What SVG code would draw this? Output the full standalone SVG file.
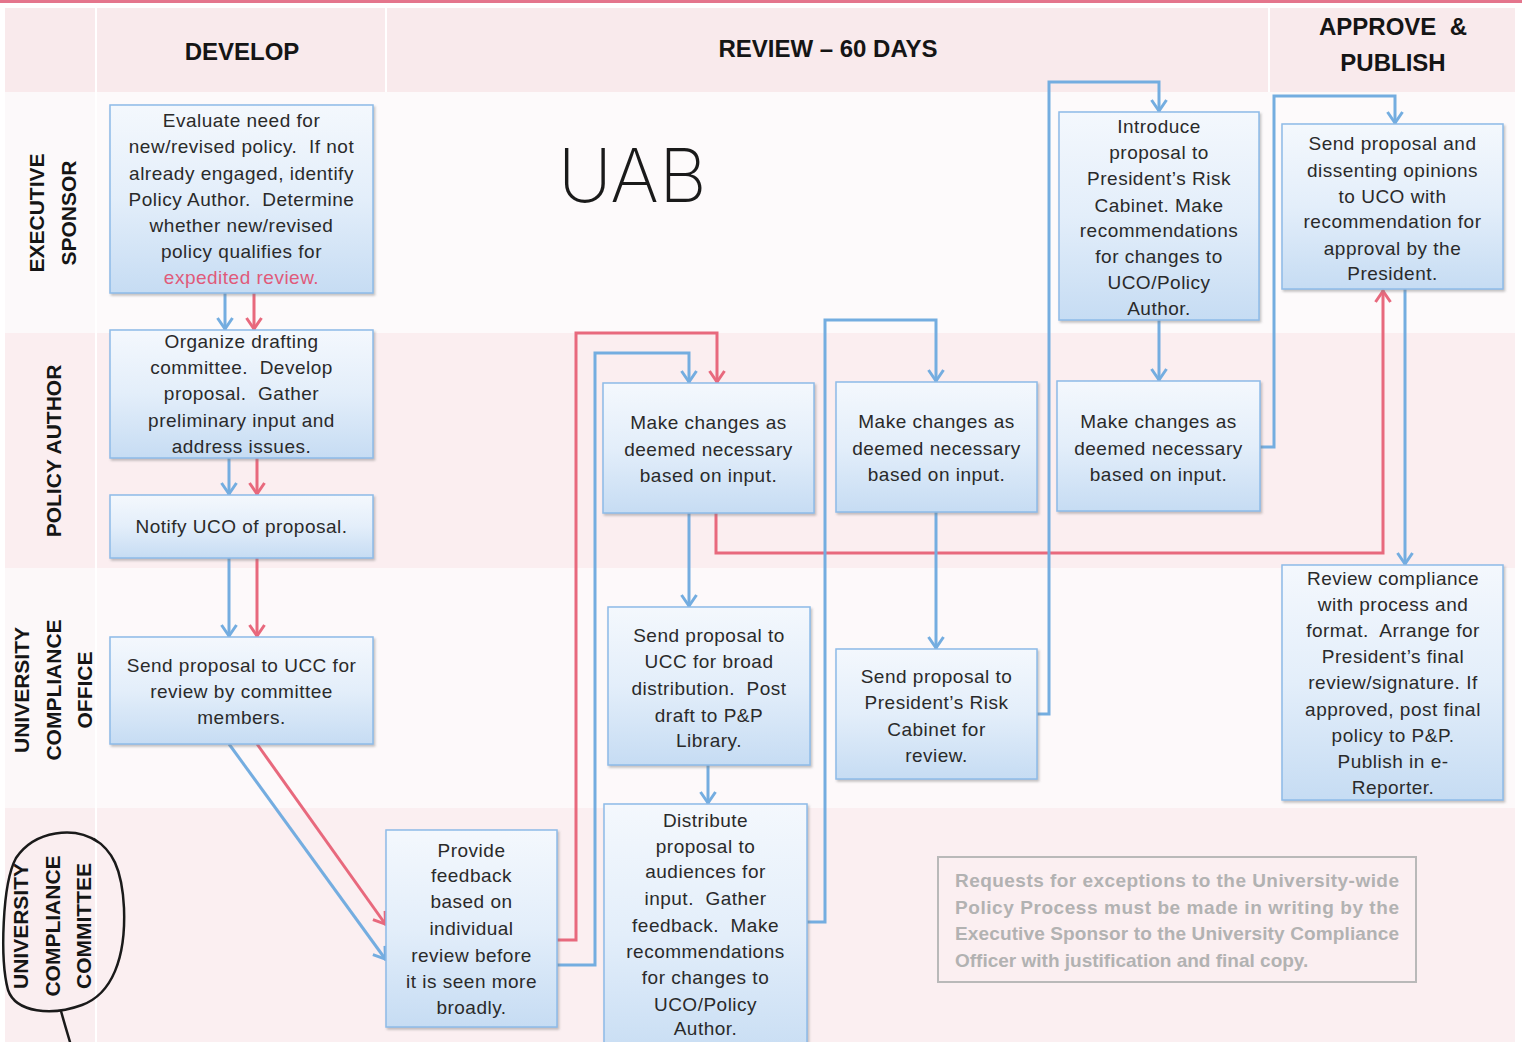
<svg xmlns="http://www.w3.org/2000/svg" width="1522" height="1042" viewBox="0 0 1522 1042">
<style>
.t{font-family:"Liberation Sans",Arial,sans-serif;font-size:19px;fill:#2a2a2a;text-anchor:middle;letter-spacing:0.5px}
.hdr{font-family:"Liberation Sans",Arial,sans-serif;font-size:24px;font-weight:bold;fill:#151515;text-anchor:middle}
.lane{font-family:"Liberation Sans",Arial,sans-serif;font-size:21px;font-weight:bold;fill:#151515;text-anchor:middle}
.box{fill:url(#bg);stroke:#8dbbe8;stroke-width:1.5;filter:url(#sh)}
.cb{fill:none;stroke:#74ade0;stroke-width:3;marker-end:url(#ab)}
.cr{fill:none;stroke:#e8697d;stroke-width:3;marker-end:url(#ar)}
.note{font-family:"Liberation Sans",Arial,sans-serif;font-size:19px;font-weight:bold;fill:#b2b2b2}
.red{fill:#e05a7a}
</style>
<defs>
<linearGradient id="bg" x1="0" y1="0" x2="0" y2="1">
<stop offset="0" stop-color="#f4f8fd"/>
<stop offset="0.5" stop-color="#e3eefa"/>
<stop offset="1" stop-color="#c6dcf3"/>
</linearGradient>
<filter id="sh" x="-10%" y="-10%" width="120%" height="120%">
<feDropShadow dx="1.5" dy="2" stdDeviation="1.2" flood-color="#7a7a7a" flood-opacity="0.45"/>
</filter>
<marker id="ab" markerUnits="userSpaceOnUse" refX="0" refY="0" markerWidth="30" markerHeight="30" orient="auto" overflow="visible">
<path d="M-12,-7.5 L-1,0 L-12,7.5" fill="none" stroke="#74ade0" stroke-width="3" stroke-linejoin="round"/>
</marker>
<marker id="ar" markerUnits="userSpaceOnUse" refX="0" refY="0" markerWidth="30" markerHeight="30" orient="auto" overflow="visible">
<path d="M-12,-7.5 L-1,0 L-12,7.5" fill="none" stroke="#e8697d" stroke-width="3" stroke-linejoin="round"/>
</marker>
</defs>

<g id="background">
<rect x="0" y="0" width="1522" height="1042" fill="#ffffff"/>
<rect x="0" y="0" width="1522" height="3" fill="#e4758c"/>
<rect x="5" y="8" width="90" height="84" fill="#f9eaec"/>
<rect x="97" y="8" width="288" height="84" fill="#f9eaec"/>
<rect x="387" y="8" width="881" height="84" fill="#f9eaec"/>
<rect x="1270" y="8" width="245" height="84" fill="#f9eaec"/>
<rect x="5" y="92" width="90" height="241" fill="#fcf9fa"/>
<rect x="97" y="92" width="1418" height="241" fill="#fdfafb"/>
<rect x="5" y="333" width="90" height="235" fill="#fbeef0"/>
<rect x="97" y="333" width="1418" height="235" fill="#fbeef0"/>
<rect x="5" y="568" width="90" height="240" fill="#fcf8f9"/>
<rect x="97" y="568" width="1418" height="240" fill="#fdf9fa"/>
<rect x="5" y="808" width="90" height="234" fill="#faeef0"/>
<rect x="97" y="808" width="1418" height="234" fill="#fbeff1"/>
</g>

<g id="headers">
<text class="hdr" x="242" y="60">DEVELOP</text>
<text class="hdr" x="828" y="57">REVIEW – 60 DAYS</text>
<text class="hdr" x="1393" y="35" xml:space="preserve">APPROVE  &amp;</text>
<text class="hdr" x="1393" y="71">PUBLISH</text>
</g>

<g id="lanes">
<text class="lane" transform="translate(44,213) rotate(-90)"><tspan x="0" y="0">EXECUTIVE</tspan><tspan x="0" y="32">SPONSOR</tspan></text>
<text class="lane" transform="translate(61,451) rotate(-90)"><tspan x="0" y="0">POLICY AUTHOR</tspan></text>
<text class="lane" transform="translate(29,690) rotate(-90)"><tspan x="0" y="0">UNIVERSITY</tspan><tspan x="0" y="31.5">COMPLIANCE</tspan><tspan x="0" y="63">OFFICE</tspan></text>
<text class="lane" transform="translate(28,926) rotate(-90)"><tspan x="0" y="0">UNIVERSITY</tspan><tspan x="0" y="31.5">COMPLIANCE</tspan><tspan x="0" y="63">COMMITTEE</tspan></text>
<path d="M98,842 C75,826 35,830 16,858 C2,884 0,960 8,990 C16,1013 52,1016 82,1005 C112,994 126,958 124,908 C122,868 112,850 94,839" fill="none" stroke="#1a1a1a" stroke-width="2.5" stroke-linecap="round"/>
<path d="M61,1011 C64,1022 67,1032 70,1042" fill="none" stroke="#1a1a1a" stroke-width="2.5" stroke-linecap="round"/>
</g>

<g id="handwriting">
<text x="558" y="202" font-family="Inter,'DejaVu Sans',sans-serif" font-size="74" font-weight="200" fill="#1a1a1a">UAB</text>
</g>

<g id="connectors">
<path class="cb" d="M225,293 V330"/>
<path class="cr" d="M254,293 V330"/>
<path class="cb" d="M229,458 V495"/>
<path class="cr" d="M257,458 V495"/>
<path class="cb" d="M229,558 V637"/>
<path class="cr" d="M257,558 V637"/>
<path class="cb" d="M229,744 L386,960"/>
<path class="cr" d="M257,744 L386,925"/>
<path class="cr" d="M557,940 H576 V333 H717 V383"/>
<path class="cb" d="M557,965 H595 V353 H689 V383"/>
<path class="cb" d="M689,513 V607"/>
<path class="cr" d="M716,513 V553 H1383 V290"/>
<path class="cb" d="M708,765 V804"/>
<path class="cb" d="M807,922 H825 V320 H936 V382"/>
<path class="cb" d="M936,512 V649"/>
<path class="cb" d="M1037,714 H1049 V82 H1159 V112"/>
<path class="cb" d="M1159,320 V381"/>
<path class="cb" d="M1260,447 H1274 V96 H1395 V124"/>
<path class="cb" d="M1405,289 V565"/>
</g>

<g id="n1">
<rect class="box" x="110" y="105" width="263" height="188"/>
<text class="t"><tspan x="241.5" y="127">Evaluate need for</tspan><tspan x="241.5" y="153">new/revised policy.&#160; If not</tspan><tspan x="241.5" y="180">already engaged, identify</tspan><tspan x="241.5" y="206">Policy Author.&#160; Determine</tspan><tspan x="241.5" y="232">whether new/revised</tspan><tspan x="241.5" y="258">policy qualifies for</tspan><tspan x="241.5" y="284" class="red">expedited review.</tspan></text>
</g>
<g id="n2">
<rect class="box" x="110" y="330" width="263" height="128"/>
<text class="t"><tspan x="241.5" y="348">Organize drafting</tspan><tspan x="241.5" y="374">committee.&#160; Develop</tspan><tspan x="241.5" y="400">proposal.&#160; Gather</tspan><tspan x="241.5" y="427">preliminary input and</tspan><tspan x="241.5" y="453">address issues.</tspan></text>
</g>
<g id="n3">
<rect class="box" x="110" y="495" width="263" height="63"/>
<text class="t"><tspan x="241.5" y="533">Notify UCO of proposal.</tspan></text>
</g>
<g id="n4">
<rect class="box" x="110" y="637" width="263" height="107"/>
<text class="t"><tspan x="241.5" y="672">Send proposal to UCC for</tspan><tspan x="241.5" y="698">review by committee</tspan><tspan x="241.5" y="724">members.</tspan></text>
</g>
<g id="n5">
<rect class="box" x="386" y="830" width="171" height="197"/>
<text class="t"><tspan x="471.5" y="857">Provide</tspan><tspan x="471.5" y="882">feedback</tspan><tspan x="471.5" y="908">based on</tspan><tspan x="471.5" y="935">individual</tspan><tspan x="471.5" y="962">review before</tspan><tspan x="471.5" y="988">it is seen more</tspan><tspan x="471.5" y="1014">broadly.</tspan></text>
</g>
<g id="n6">
<rect class="box" x="603" y="383" width="211" height="130"/>
<text class="t"><tspan x="708.5" y="429">Make changes as</tspan><tspan x="708.5" y="456">deemed necessary</tspan><tspan x="708.5" y="482">based on input.</tspan></text>
</g>
<g id="n7">
<rect class="box" x="608" y="607" width="202" height="158"/>
<text class="t"><tspan x="709" y="642">Send proposal to</tspan><tspan x="709" y="668">UCC for broad</tspan><tspan x="709" y="695">distribution.&#160; Post</tspan><tspan x="709" y="722">draft to P&amp;P</tspan><tspan x="709" y="747">Library.</tspan></text>
</g>
<g id="n8">
<rect class="box" x="604" y="804" width="203" height="260"/>
<text class="t"><tspan x="705.5" y="827">Distribute</tspan><tspan x="705.5" y="853">proposal to</tspan><tspan x="705.5" y="878">audiences for</tspan><tspan x="705.5" y="905">input.&#160; Gather</tspan><tspan x="705.5" y="932">feedback.&#160; Make</tspan><tspan x="705.5" y="958">recommendations</tspan><tspan x="705.5" y="984">for changes to</tspan><tspan x="705.5" y="1011">UCO/Policy</tspan><tspan x="705.5" y="1035">Author.</tspan></text>
</g>
<g id="n9">
<rect class="box" x="836" y="382" width="201" height="130"/>
<text class="t"><tspan x="936.5" y="428">Make changes as</tspan><tspan x="936.5" y="455">deemed necessary</tspan><tspan x="936.5" y="481">based on input.</tspan></text>
</g>
<g id="n10">
<rect class="box" x="836" y="649" width="201" height="130"/>
<text class="t"><tspan x="936.5" y="683">Send proposal to</tspan><tspan x="936.5" y="709">President’s Risk</tspan><tspan x="936.5" y="736">Cabinet for</tspan><tspan x="936.5" y="762">review.</tspan></text>
</g>
<g id="n11">
<rect class="box" x="1059" y="112" width="200" height="208"/>
<text class="t"><tspan x="1159" y="133">Introduce</tspan><tspan x="1159" y="159">proposal to</tspan><tspan x="1159" y="185">President’s Risk</tspan><tspan x="1159" y="212">Cabinet. Make</tspan><tspan x="1159" y="237">recommendations</tspan><tspan x="1159" y="263">for changes to</tspan><tspan x="1159" y="289">UCO/Policy</tspan><tspan x="1159" y="315">Author.</tspan></text>
</g>
<g id="n12">
<rect class="box" x="1057" y="381" width="203" height="130"/>
<text class="t"><tspan x="1158.5" y="428">Make changes as</tspan><tspan x="1158.5" y="455">deemed necessary</tspan><tspan x="1158.5" y="481">based on input.</tspan></text>
</g>
<g id="n13">
<rect class="box" x="1282" y="124" width="221" height="165"/>
<text class="t"><tspan x="1392.5" y="150">Send proposal and</tspan><tspan x="1392.5" y="177">dissenting opinions</tspan><tspan x="1392.5" y="203">to UCO with</tspan><tspan x="1392.5" y="228">recommendation for</tspan><tspan x="1392.5" y="255">approval by the</tspan><tspan x="1392.5" y="280">President.</tspan></text>
</g>
<g id="n14">
<rect class="box" x="1282" y="565" width="221" height="235"/>
<text class="t"><tspan x="1393" y="585">Review compliance</tspan><tspan x="1393" y="611">with process and</tspan><tspan x="1393" y="637">format.&#160; Arrange for</tspan><tspan x="1393" y="663">President’s final</tspan><tspan x="1393" y="689">review/signature. If</tspan><tspan x="1393" y="716">approved, post final</tspan><tspan x="1393" y="742">policy to P&amp;P.</tspan><tspan x="1393" y="768">Publish in e-</tspan><tspan x="1393" y="794">Reporter.</tspan></text>
</g>

<g id="note">
<rect x="938" y="857" width="478" height="125" fill="none" stroke="#b9b9b9" stroke-width="2"/>
<text class="note"><tspan x="955" y="887" textLength="444" lengthAdjust="spacing">Requests for exceptions to the University-wide</tspan><tspan x="955" y="914" textLength="444" lengthAdjust="spacing">Policy Process must be made in writing by the</tspan><tspan x="955" y="940" textLength="444" lengthAdjust="spacing">Executive Sponsor to the University Compliance</tspan><tspan x="955" y="967">Officer with justification and final copy.</tspan></text>
</g>
</svg>
